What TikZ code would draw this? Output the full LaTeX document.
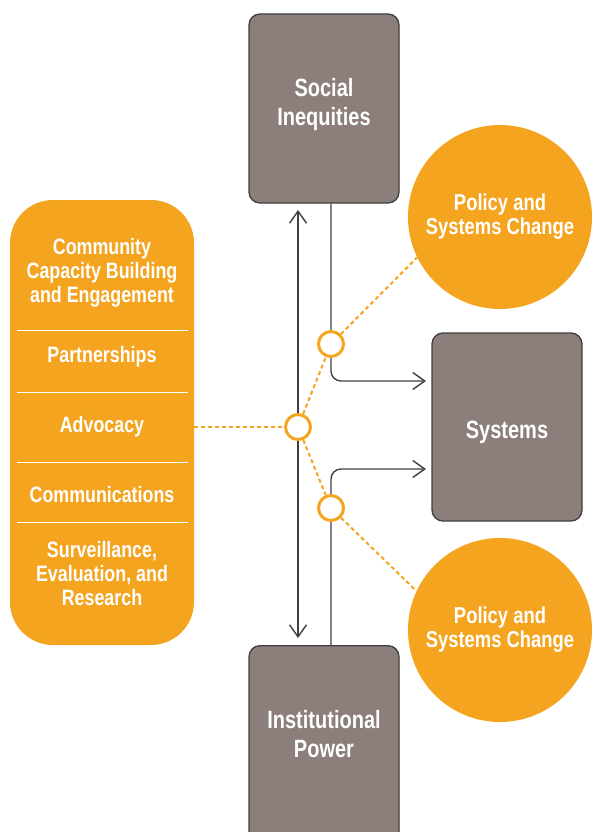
\documentclass[tikz,border=0pt]{standalone}
\usepackage{fontspec}
\newfontfamily\condfont{Liberation Sans}[FakeStretch=0.8]
\usetikzlibrary{arrows.meta}
\definecolor{boxgray}{HTML}{8C7F7B}
\definecolor{edgegray}{HTML}{3F3F3F}
\definecolor{strategy}{HTML}{F4A41F}
\tikzset{
  graybox/.style={draw=edgegray, line width=1.3pt, fill=boxgray, rounded corners=11pt,
    minimum width=150pt, inner sep=0pt},
  boxtext/.style={text=white, align=center, inner sep=0pt,
    font=\condfont\bfseries\fontsize{25}{29}\selectfont},
  changecircle/.style={circle, fill=strategy, minimum size=184pt, inner sep=0pt,
    text=white, align=center, font=\condfont\bfseries\fontsize{23}{24}\selectfont},
  stratbox/.style={fill=strategy, rounded corners=43pt, minimum width=184pt,
    minimum height=445pt, inner sep=0pt},
  strattext/.style={text=white, align=center, inner sep=0pt,
    font=\condfont\bfseries\fontsize{22.3}{24}\selectfont},
  joint/.style={circle, draw=strategy, line width=3pt, fill=white,
    minimum size=25pt, inner sep=0pt},
  conn/.style={draw=edgegray, line width=1.4pt, -{Straight Barb[length=12pt,width=17pt]}},
  dashline/.style={draw=strategy, line width=2pt, dash pattern=on 4pt off 3pt}
}
\begin{document}
\begin{tikzpicture}[x=1pt,y=-1pt]
  \useasboundingbox (0,0) rectangle (592,832);

  % outcome boxes
  \node[graybox, minimum height=189pt] (social) at (324,108.5) {};
  \node[boxtext] (sociallabel) at (324,105) {Social\\Inequities};
  \node[graybox, minimum height=188pt] (systems) at (507,427) {};
  \node[boxtext] (systemslabel) at (507,432) {Systems};
  \node[graybox, minimum height=200pt, anchor=north] (inst) at (324,645) {};
  \node[boxtext] (instlabel) at (324,734) {Institutional\\Power};

  % policy circles
  \node[changecircle] (polA) at (500,217) {Policy and\\Systems Change};
  \node[changecircle] (polB) at (500,630) {Policy and\\Systems Change};

  % strategies
  \node[stratbox] (plan) at (102,422.5) {};
  \foreach \y in {330,392,462,522}
    \draw[white, line width=1pt] (17,\y) -- (188,\y);
  \node[strattext] (community) at (102,273) {Community\\Capacity Building\\and Engagement};
  \node[strattext] (partner) at (102,357) {Partnerships};
  \node[strattext] (advocacy) at (102,427) {Advocacy};
  \node[strattext] (comms) at (102,495) {Communications};
  \node[strattext] (research) at (102,574) {Surveillance,\\Evaluation, and\\Research};

  % connectors
  \coordinate (hubpos) at (298,427);
  \coordinate (joinApos) at (331,344);
  \coordinate (joinBpos) at (331,508);
  \coordinate (inA) at (426,381);
  \coordinate (inB) at (426,469);
  \coordinate (tipT) at (298,210);
  \coordinate (tipB) at (298,638);
  \draw[conn, {Straight Barb[length=12pt,width=17pt]}-{Straight Barb[length=12pt,width=17pt]}] (tipT) -- (tipB);
  \draw[conn, rounded corners=10pt] (social.south -| joinApos) |- (inA);
  \draw[conn, rounded corners=10pt] (inst.north -| joinBpos) |- (inB);

  % joints
  \node[joint] (hub) at (hubpos) {};
  \node[joint] (joinA) at (joinApos) {};
  \node[joint] (joinB) at (joinBpos) {};

  \draw[dashline] (plan.east |- hub) -- (hub);
  \draw[dashline] (hub) -- (joinA);
  \draw[dashline] (hub) -- (joinB);
  \draw[dashline] (joinA) -- (polA.206);
  \draw[dashline] (joinB) -- (polB.155);
\end{tikzpicture}
\end{document}
